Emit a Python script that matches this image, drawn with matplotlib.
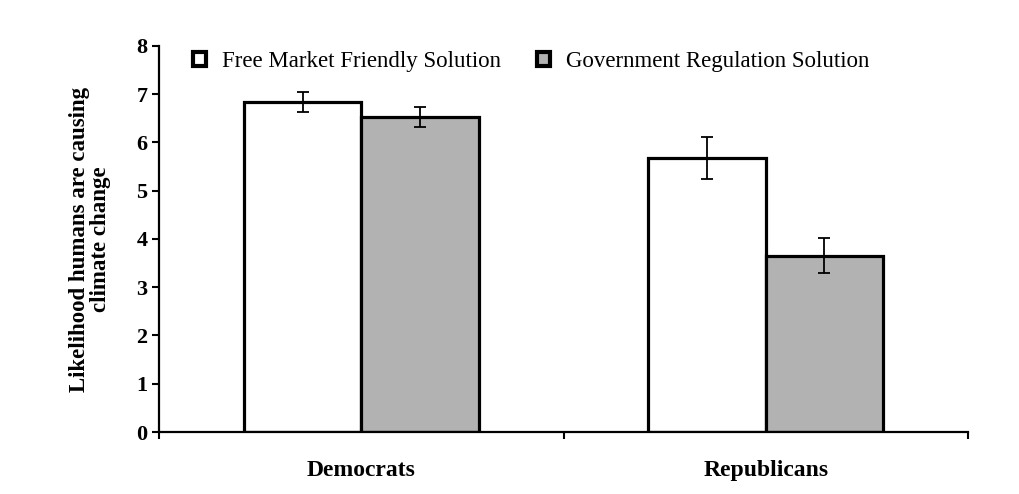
import matplotlib.pyplot as plt
import numpy as np

# data
groups = ["Democrats", "Republicans"]
free_market = [6.84, 5.68]
free_market_err = [0.20, 0.44]
government = [6.53, 3.65]
government_err = [0.20, 0.36]

plt.rcParams['font.family'] = ['Liberation Serif', 'DejaVu Serif']

fig = plt.figure(figsize=(10.2, 4.94), dpi=100)
ax = fig.add_axes([0.156, 0.1255, 0.793, 0.7815])

x = np.arange(len(groups))
w = 0.29
ax.bar(x - w / 2, free_market, w, color="white", edgecolor="black", linewidth=2.3,
       yerr=free_market_err, capsize=4, error_kw=dict(elinewidth=1.3, capthick=1.3),
       label="Free Market Friendly Solution", zorder=2)
ax.bar(x + w / 2, government, w, color="#b2b2b2", edgecolor="black", linewidth=2.3,
       yerr=government_err, capsize=4, error_kw=dict(elinewidth=1.3, capthick=1.3),
       label="Government Regulation Solution", zorder=2)

ax.set_xlim(-0.5, 1.5)
ax.set_ylim(0, 8)
ax.set_yticks(range(0, 9))
ax.set_xticks(x)
ax.set_xticklabels(groups, fontweight="bold", fontsize=17)
ax.tick_params(axis="x", which="major", length=0, pad=20)
ax.set_xticks([-0.5, 0.5, 1.5], minor=True)
ax.tick_params(axis="x", which="minor", length=5, width=1.5, direction="out")
ax.tick_params(axis="y", length=5, width=1.5, direction="out", labelsize=16)
for lab in ax.get_yticklabels():
    lab.set_fontweight("bold")

ax.spines["top"].set_visible(False)
ax.spines["right"].set_visible(False)
ax.spines["left"].set_linewidth(1.6)
ax.spines["bottom"].set_linewidth(1.6)

ax.set_ylabel("Likelihood humans are causing\nclimate change", fontweight="bold",
              fontsize=16.5, linespacing=1.0, labelpad=18)

leg = ax.legend(loc="upper center", bbox_to_anchor=(0.46, 1.04), ncol=2, frameon=False,
                fontsize=16.5, handlelength=0.55, handleheight=0.55, columnspacing=1.6,
                handletextpad=0.7)
for h in leg.legend_handles:
    h.set_linewidth(3)

fig.savefig("out.png", dpi=100)
